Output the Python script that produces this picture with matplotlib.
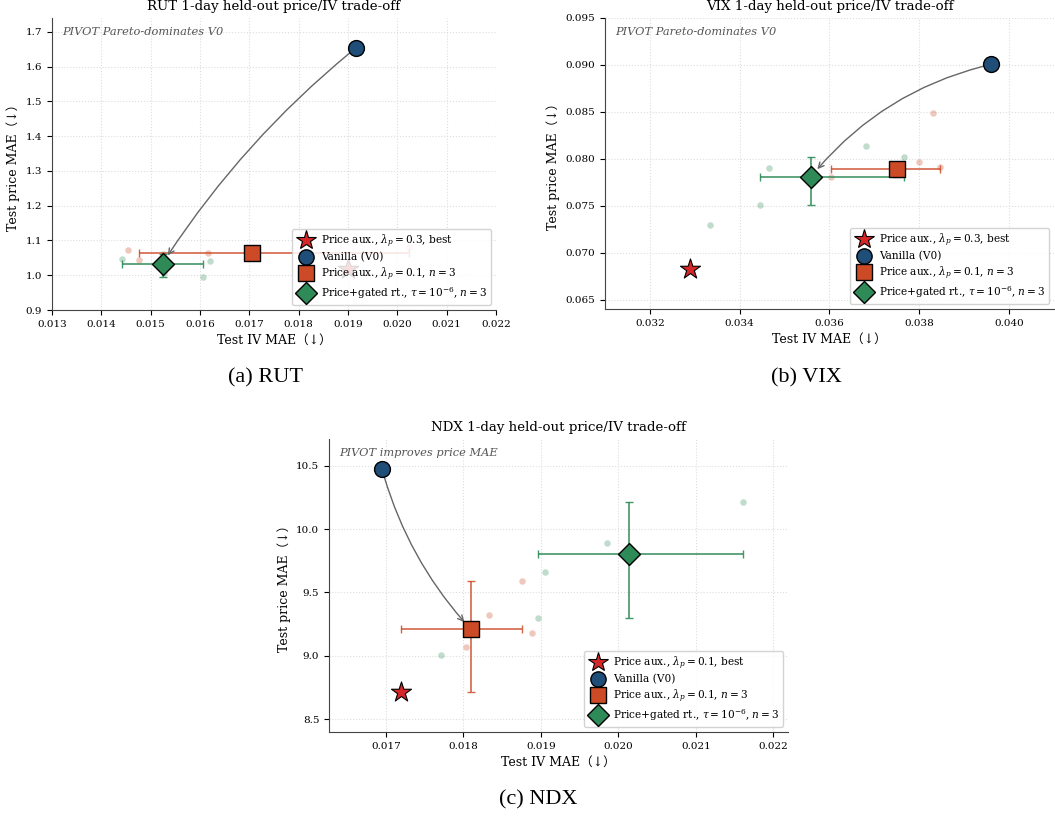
import numpy as np
import matplotlib
matplotlib.use("Agg")
import matplotlib.pyplot as plt
from matplotlib.lines import Line2D
from matplotlib.ticker import FormatStrFormatter, MultipleLocator

C_BEST = "#d62728"
C_VAN = "#1f4e79"
C_AUX = "#cc4b26"
C_GATE = "#2e8b57"

# ---- RUT ----
rut_vanilla = [0.01917, 1.655]
rut_best = [0.01900, 1.018]
rut_aux_x = [0.01476, 0.01616, 0.02024]
rut_aux_y = [1.045, 1.063, 1.081]
rut_aux_extra_x = [0.01454]
rut_aux_extra_y = [1.073]
rut_gate_x = [0.01441, 0.01525, 0.01606]
rut_gate_y = [1.047, 1.060, 0.994]
rut_gate_extra_x = [0.01527, 0.01620]
rut_gate_extra_y = [1.007, 1.042]

# ---- VIX ----
vix_vanilla = [0.03959, 0.09005]
vix_best = [0.03289, 0.0683]
vix_aux_x = [0.03603, 0.03799, 0.03847]
vix_aux_y = [0.07804, 0.07967, 0.07917]
vix_aux_extra_x = [0.03830]
vix_aux_extra_y = [0.08484]
vix_gate_x = [0.03445, 0.03466, 0.03766]
vix_gate_y = [0.07513, 0.07900, 0.08016]
vix_gate_extra_x = [0.03334, 0.03682]
vix_gate_extra_y = [0.07297, 0.08140]

# ---- NDX ----
ndx_vanilla = [0.01695, 10.471]
ndx_best = [0.01720, 8.717]
ndx_aux_x = [0.01720, 0.01833, 0.01876]
ndx_aux_y = [8.717, 9.323, 9.587]
ndx_aux_extra_x = [0.01888, 0.01803]
ndx_aux_extra_y = [9.181, 9.067]
ndx_gate_x = [0.01896, 0.01985, 0.02161]
ndx_gate_y = [9.300, 9.893, 10.217]
ndx_gate_extra_x = [0.01905, 0.01771]
ndx_gate_extra_y = [9.660, 9.006]

plt.rcParams["font.family"] = ["DejaVu Serif", "Noto Sans CJK SC", "DejaVu Sans"]
plt.rcParams["mathtext.fontset"] = "dejavuserif"


def summary(xs, ys):
    xs, ys = np.asarray(xs), np.asarray(ys)
    mx, my = xs.mean(), ys.mean()
    xerr = [[mx - xs.min()], [xs.max() - mx]]
    yerr = [[my - ys.min()], [ys.max() - my]]
    return mx, my, xerr, yerr


def panel(ax, name, note, vanilla, best, best_lam, aux, aux_extra, gate, gate_extra,
          arrow_to, rad):
    ax.scatter(list(aux[0]) + list(aux_extra[0]), list(aux[1]) + list(aux_extra[1]),
               s=22, color=C_AUX, alpha=0.3, lw=0, zorder=2)
    ax.scatter(list(gate[0]) + list(gate_extra[0]), list(gate[1]) + list(gate_extra[1]),
               s=22, color=C_GATE, alpha=0.3, lw=0, zorder=2)

    a_mx, a_my, a_xe, a_ye = summary(*aux)
    g_mx, g_my, g_xe, g_ye = summary(*gate)
    ax.errorbar(a_mx, a_my, xerr=a_xe, yerr=a_ye, fmt="none", ecolor=C_AUX,
                elinewidth=1.2, capsize=3, alpha=0.85, zorder=3)
    ax.errorbar(g_mx, g_my, xerr=g_xe, yerr=g_ye, fmt="none", ecolor=C_GATE,
                elinewidth=1.2, capsize=3, alpha=0.9, zorder=3)

    ax.scatter(*best, marker="*", s=230, color=C_BEST, edgecolor="black", lw=0.8, zorder=5)
    ax.scatter(*vanilla, marker="o", s=130, color=C_VAN, edgecolor="black", lw=1.0, zorder=5)
    ax.scatter(a_mx, a_my, marker="s", s=125, color=C_AUX, edgecolor="black", lw=1.0, zorder=5)
    ax.scatter(g_mx, g_my, marker="D", s=125, color=C_GATE, edgecolor="black", lw=1.0, zorder=5)

    target = (g_mx, g_my) if arrow_to == "gate" else (a_mx, a_my)
    ax.annotate("", xy=target, xytext=vanilla,
                arrowprops=dict(arrowstyle="->", color="#666666", lw=1.0,
                                connectionstyle=f"arc3,rad={rad}", shrinkA=6, shrinkB=7),
                zorder=4)

    ax.text(0.022, 0.952, note, transform=ax.transAxes, style="italic", color="#555555",
            fontsize=8.2, va="center", ha="left")
    ax.set_title(f"{name} 1-day held-out price/IV trade-off", fontsize=9.6)
    ax.set_xlabel("Test IV MAE（↓）", fontsize=9)
    ax.set_ylabel("Test price MAE（↓）", fontsize=9)
    ax.tick_params(labelsize=7.5)
    ax.grid(True, ls=":", color="#dddddd", lw=0.8)
    ax.set_axisbelow(True)
    for s in ["top", "right"]:
        ax.spines[s].set_visible(False)
    for s in ["left", "bottom"]:
        ax.spines[s].set_color("#444444")

    handles = [
        Line2D([], [], ls="none", marker="*", ms=15, mfc=C_BEST, mec="black", mew=0.8,
               label=rf"Price aux., $\lambda_p={best_lam}$, best"),
        Line2D([], [], ls="none", marker="o", ms=11, mfc=C_VAN, mec="black", mew=1.0,
               label="Vanilla (V0)"),
        Line2D([], [], ls="none", marker="s", ms=11, mfc=C_AUX, mec="black", mew=1.0,
               label=r"Price aux., $\lambda_p=0.1$, $n=3$"),
        Line2D([], [], ls="none", marker="D", ms=11, mfc=C_GATE, mec="black", mew=1.0,
               label=r"Price+gated rt., $\tau=10^{-6}$, $n=3$"),
    ]
    ax.legend(handles=handles, loc="lower right", fontsize=7.6, framealpha=0.85,
              edgecolor="#cccccc", handletextpad=0.4, labelspacing=0.25, borderpad=0.35)


fig = plt.figure(figsize=(10.55, 8.18), dpi=100)
ax1 = fig.add_axes([52 / 1055, 1 - 310 / 818, 444 / 1055, 292 / 818])
ax2 = fig.add_axes([605 / 1055, 1 - 309 / 818, 449 / 1055, 291 / 818])
ax3 = fig.add_axes([329 / 1055, 1 - 732 / 818, 459 / 1055, 293 / 818])

panel(ax1, "RUT", "PIVOT Pareto-dominates V0", rut_vanilla, rut_best, 0.3,
      (rut_aux_x, rut_aux_y), (rut_aux_extra_x, rut_aux_extra_y),
      (rut_gate_x, rut_gate_y), (rut_gate_extra_x, rut_gate_extra_y), "gate", 0.08)
ax1.set_xlim(0.013, 0.022)
ax1.set_ylim(0.9, 1.74)
ax1.xaxis.set_major_locator(MultipleLocator(0.001))
ax1.yaxis.set_major_locator(MultipleLocator(0.1))
ax1.xaxis.set_major_formatter(FormatStrFormatter("%.3f"))
ax1.yaxis.set_major_formatter(FormatStrFormatter("%.1f"))

panel(ax2, "VIX", "PIVOT Pareto-dominates V0", vix_vanilla, vix_best, 0.3,
      (vix_aux_x, vix_aux_y), (vix_aux_extra_x, vix_aux_extra_y),
      (vix_gate_x, vix_gate_y), (vix_gate_extra_x, vix_gate_extra_y), "gate", 0.17)
ax2.set_xlim(0.0310, 0.0410)
ax2.set_ylim(0.0640, 0.0950)
ax2.xaxis.set_major_locator(MultipleLocator(0.002))
ax2.yaxis.set_major_locator(MultipleLocator(0.005))
ax2.xaxis.set_major_formatter(FormatStrFormatter("%.3f"))
ax2.yaxis.set_major_formatter(FormatStrFormatter("%.3f"))

panel(ax3, "NDX", "PIVOT improves price MAE", ndx_vanilla, ndx_best, 0.1,
      (ndx_aux_x, ndx_aux_y), (ndx_aux_extra_x, ndx_aux_extra_y),
      (ndx_gate_x, ndx_gate_y), (ndx_gate_extra_x, ndx_gate_extra_y), "aux", 0.12)
ax3.set_xlim(0.016265, 0.02219)
ax3.set_ylim(8.40, 10.71)
ax3.xaxis.set_major_locator(MultipleLocator(0.001))
ax3.yaxis.set_major_locator(MultipleLocator(0.5))
ax3.xaxis.set_major_formatter(FormatStrFormatter("%.3f"))
ax3.yaxis.set_major_formatter(FormatStrFormatter("%.1f"))

cap = dict(ha="center", va="center", family="Liberation Serif", fontsize=16)
fig.text(265 / 1055, 1 - 378 / 818, "(a) RUT", **cap)
fig.text(806 / 1055, 1 - 378 / 818, "(b) VIX", **cap)
fig.text(538 / 1055, 1 - 800 / 818, "(c) NDX", **cap)

fig.savefig("out.png", dpi=100)
